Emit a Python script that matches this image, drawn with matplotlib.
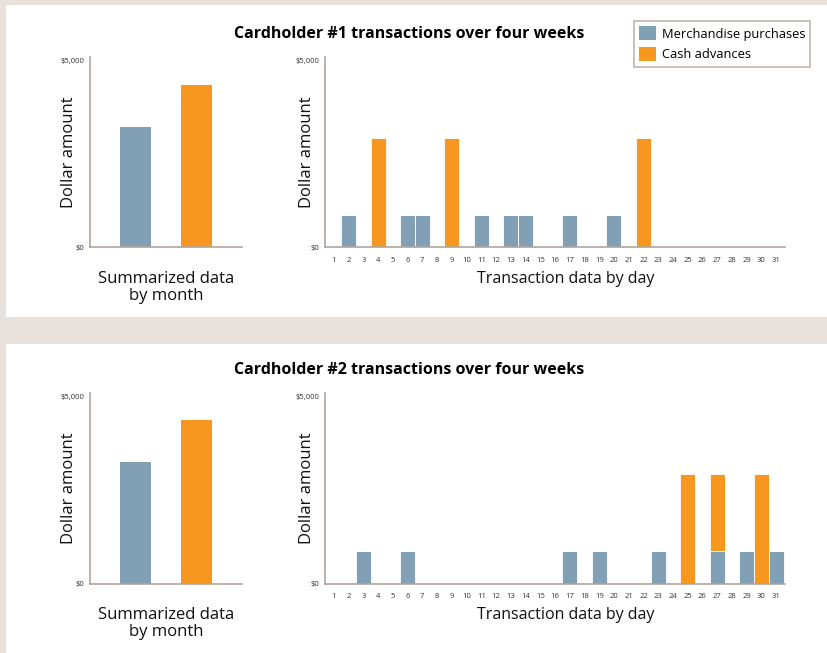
import matplotlib
matplotlib.use("Agg")
import matplotlib.pyplot as plt
from matplotlib.patches import Rectangle, Patch

plt.rcParams['font.family'] = ['Open Sans', 'DejaVu Sans']

BLUE = "#819fb5"
ORANGE = "#f7971f"
BEIGE = "#e9e2dc"
SPINE = "#b0a59b"

# data
days = list(range(1, 32))
summary_labels = ["Merchandise purchases", "Cash advances"]

card1_summary = [3230, 4360]
card1_merch = [0, 880, 0, 0, 0, 880, 880, 0, 0, 0, 880, 0, 880, 880, 0, 0,
               880, 0, 0, 880, 0, 0, 0, 0, 0, 0, 0, 0, 0, 0, 0]
card1_cash = [0, 0, 0, 2930, 0, 0, 0, 0, 2930, 0, 0, 0, 0, 0, 0, 0,
              0, 0, 0, 0, 0, 2930, 0, 0, 0, 0, 0, 0, 0, 0, 0]

card2_summary = [3240, 4370]
card2_merch = [0, 0, 880, 0, 0, 880, 0, 0, 0, 0, 0, 0, 0, 0, 0, 0,
               880, 0, 880, 0, 0, 0, 880, 0, 0, 0, 880, 0, 880, 0, 880]
card2_cash = [0, 0, 0, 0, 0, 0, 0, 0, 0, 0, 0, 0, 0, 0, 0, 0,
              0, 0, 0, 0, 0, 0, 0, 0, 2930, 0, 2050, 0, 0, 2930, 0]

titles = ["Cardholder #1 transactions over four weeks",
          "Cardholder #2 transactions over four weeks"]

W, H = 828, 653
fig = plt.figure(figsize=(W / 100, H / 100), dpi=100)
fig.patch.set_facecolor(BEIGE)


def px_axes(x0, y0, x1, y1):
    # pixel box (top-left origin) -> figure axes
    return fig.add_axes([x0 / W, 1 - y1 / H, (x1 - x0) / W, (y1 - y0) / H])


def style(ax, ylab_x):
    ax.set_facecolor("none")
    for s in ["top", "right"]:
        ax.spines[s].set_visible(False)
    for s in ["left", "bottom"]:
        ax.spines[s].set_color(SPINE)
        ax.spines[s].set_linewidth(1.2)
    ax.set_ylim(0, 5100)
    ax.set_yticks([0, 5000])
    ax.set_yticklabels(["$0", "$5,000"])
    ax.tick_params(length=0, labelsize=5.5, labelcolor="#333333", pad=4)
    ax.set_ylabel("Dollar amount", fontsize=12, color="#111111")
    ax.yaxis.set_label_coords(ylab_x, 0.5)


# white panels, behind the axes
fig.patches.append(Rectangle((6 / W, 1 - 317 / H), 1, 312 / H,
                             transform=fig.transFigure, facecolor="white",
                             edgecolor="none", zorder=-5))
fig.patches.append(Rectangle((6 / W, 0), 1, 1 - 344 / H,
                             transform=fig.transFigure, facecolor="white",
                             edgecolor="none", zorder=-5))

panels = [(card1_summary, card1_merch, card1_cash, 0),
          (card2_summary, card2_merch, card2_cash, 336)]

for i, (summ, merch, cash, off) in enumerate(panels):
    fig.text(409 / W, 1 - (34 + off) / H, titles[i], ha="center", va="center",
             fontsize=11.5, fontweight="bold", color="black")

    axl = px_axes(90, 57 + off, 242, 247.5 + off)
    style(axl, -0.088)
    axl.bar([0, 1], summ, width=0.5, color=[BLUE, ORANGE])
    axl.set_xlim(-0.75, 1.75)
    axl.set_xticks([])
    axl.set_xlabel("Summarized data\nby month", fontsize=12, color="#111111",
                   labelpad=17, linespacing=1.05)

    axr = px_axes(325, 57 + off, 785, 247.5 + off)
    style(axr, -0.022)
    axr.bar(days, merch, width=1.02, color=BLUE, edgecolor="white", linewidth=0.6)
    axr.bar(days, cash, width=1.02, bottom=merch, color=ORANGE,
            edgecolor="white", linewidth=0.6)
    axr.set_xlim(0.4, 31.6)
    axr.set_xticks(days)
    axr.set_xticklabels([str(d) for d in days])
    axr.tick_params(axis="x", pad=7)
    axr.set_xlabel("Transaction data by day", fontsize=11.5, color="#111111")
    axr.xaxis.set_label_coords(0.524, -0.125)

handles = [Patch(facecolor=BLUE, edgecolor="none"),
           Patch(facecolor=ORANGE, edgecolor="none")]
leg = fig.legend(handles, summary_labels, loc="upper left",
                 bbox_to_anchor=(634 / W, 1 - 21 / H), fontsize=9.3,
                 frameon=True, fancybox=False, handlelength=1.3,
                 handleheight=1.3, handletextpad=0.45, labelspacing=0.5,
                 borderpad=0.4, borderaxespad=0)
leg.get_frame().set_edgecolor(SPINE)
leg.get_frame().set_linewidth(1.2)

fig.savefig("out.png", dpi=100, facecolor=BEIGE)
